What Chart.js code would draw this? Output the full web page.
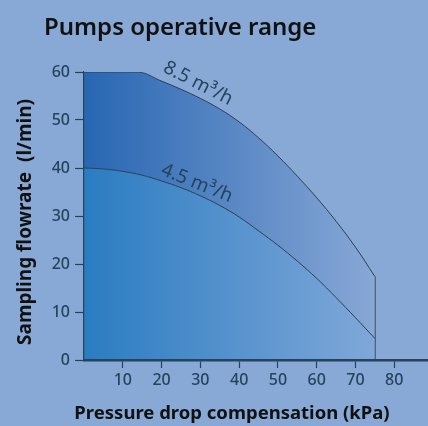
<!DOCTYPE html>
<html>
<head>
<meta charset="utf-8">
<script src="https://cdn.jsdelivr.net/npm/chart.js@4"></script>
<style>
  html, body { margin: 0; padding: 0; background: #88a9d6; }
  #wrap { width: 428px; height: 426px; }
</style>
</head>
<body>
<div id="wrap"><canvas id="pumps"></canvas></div>
<script>
// values
const pressure45 = [0, 5, 10, 15, 20, 25, 30, 35, 40, 45, 50, 55, 60, 65, 70, 75];
const flow45     = [40, 39.8, 39.3, 38.5, 37.3, 35.9, 34.2, 32.2, 29.8, 26.9, 23.9, 20.6, 17.0, 13.0, 8.8, 4.5];
const pressure85 = [0, 14, 20, 25, 30, 35, 40, 45, 50, 55, 60, 65, 70, 75];
const flow85     = [60, 60, 58.1, 56.4, 54.5, 52.3, 49.6, 46.3, 42.5, 38.3, 33.8, 28.9, 23.5, 17.4];
const endLine    = [75, 0, 17.4];      // x, y from, y to
const xTicks = [10, 20, 30, 40, 50, 60, 70, 80];
const yTicks = [0, 10, 20, 30, 40, 50, 60];

const ink = '#24435d';
const lineCol = '#2b3e52';
const fontName = '"Noto Sans", sans-serif';

const toPts = (xs, ys) => xs.map((x, i) => ({ x: x, y: ys[i] }));

function grad(ctx, chart, c1, c2) {
  const a = chart.chartArea;
  if (!a) return c1;
  const x1 = chart.scales.x.getPixelForValue(75);
  const g = ctx.createLinearGradient(a.left, 0, x1, 0);
  g.addColorStop(0, c1);
  g.addColorStop(1, c2);
  return g;
}

// curve labels and axis titles
const labelsPlugin = {
  id: 'labels',
  afterDraw(chart) {
    const ctx = chart.ctx;
    const xs = chart.scales.x, ys = chart.scales.y;
    ctx.save();
    ctx.fillStyle = ink;
    ctx.font = '19px ' + fontName;
    ctx.textAlign = 'center';
    ctx.textBaseline = 'middle';
    [[29.4, 57.6, 27, '8.5 m³/h'], [29.1, 36.8, 22, '4.5 m³/h']].forEach(l => {
      ctx.save();
      ctx.translate(xs.getPixelForValue(l[0]), ys.getPixelForValue(l[1]));
      ctx.rotate(l[2] * Math.PI / 180);
      ctx.fillText(l[3], 0, 0);
      ctx.restore();
    });

    ctx.fillStyle = '#111';
    ctx.font = '600 24px ' + fontName;
    ctx.textAlign = 'left';
    ctx.fillText('Pumps operative range', 44, 28);

    ctx.font = 'bold 18.5px ' + fontName;
    ctx.textAlign = 'center';
    ctx.fillText('Pressure drop compensation (kPa)', 232, 414);

    ctx.font = 'bold 19px ' + fontName;
    ctx.save();
    ctx.translate(26, 222);
    ctx.rotate(-Math.PI / 2);
    ctx.fillText('Sampling flowrate  (l/min)', 0, 0);
    ctx.restore();
    ctx.restore();
  }
};

new Chart(document.getElementById('pumps'), {
  type: 'line',
  data: {
    datasets: [{
      label: '4.5 m³/h',
      data: toPts(pressure45, flow45),
      borderColor: lineCol,
      borderWidth: 1,
      pointRadius: 0,
      tension: 0.4,
      fill: 'origin',
      backgroundColor: c => grad(c.chart.ctx, c.chart, '#2a7cc1', '#80a8d9')
    }, {
      label: '8.5 m³/h',
      data: toPts(pressure85, flow85),
      borderColor: lineCol,
      borderWidth: 1,
      pointRadius: 0,
      tension: 0.4,
      fill: '-1',
      backgroundColor: c => grad(c.chart.ctx, c.chart, '#2866b2', '#88a8d6')
    }, {
      label: 'end',
      data: [{ x: endLine[0], y: endLine[1] }, { x: endLine[0], y: endLine[2] }],
      borderColor: lineCol,
      borderWidth: 1.5,
      pointRadius: 0,
      fill: false
    }]
  },
  options: {
    responsive: true,
    maintainAspectRatio: false,
    animation: false,
    layout: { padding: { top: 72, right: 0, left: 0, bottom: 0 } },
    plugins: { legend: { display: false }, tooltip: { enabled: false } },
    scales: {
      x: {
        type: 'linear',
        z: 1,
        min: 0,
        max: 88.7,
        afterBuildTicks: s => { s.ticks = xTicks.map(v => ({ value: v })); },
        afterFit: s => { s.height = 66; },
        border: { color: ink, width: 2.5, z: 1 },
        grid: { drawOnChartArea: false, color: ink, tickLength: 8, tickWidth: 1.2, z: 1 },
        ticks: { color: ink, padding: 3, maxRotation: 0, autoSkip: false, font: { family: fontName, size: 16, weight: 500 } }
      },
      y: {
        z: 1,
        min: 0,
        max: 60,
        afterBuildTicks: s => { s.ticks = yTicks.map(v => ({ value: v })); },
        afterFit: s => { s.width = 84; },
        border: { color: ink, width: 1.2, z: 1 },
        grid: { drawOnChartArea: false, color: ink, tickLength: 9, tickWidth: 1.2, z: 1 },
        ticks: { color: ink, padding: 5, font: { family: fontName, size: 16, weight: 500 } }
      }
    }
  },
  plugins: [labelsPlugin]
});
</script>
</body>
</html>
